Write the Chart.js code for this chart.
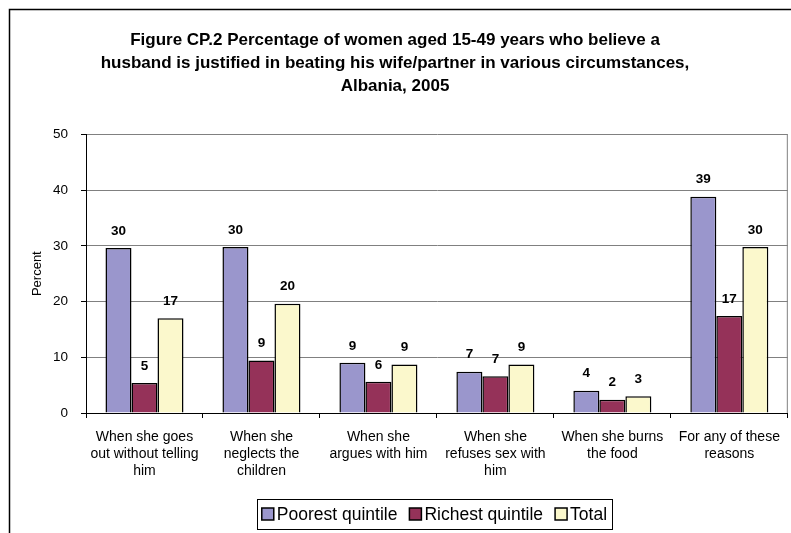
<!DOCTYPE html>
<html>
<head>
<meta charset="utf-8">
<script src="https://cdn.jsdelivr.net/npm/chart.js@4/dist/chart.umd.min.js"></script>
<style>
  html, body { margin: 0; padding: 0; background: #fff; }
  #wrap { width: 791px; height: 533px; }
</style>
</head>
<body>
<div id="wrap"><canvas id="grafico"></canvas></div>
<script>
// === DADOS ===
const categorias = [
    ['When she goes', 'out without telling', 'him'],
    ['When she', 'neglects the', 'children'],
    ['When she', 'argues with him'],
    ['When she', 'refuses sex with', 'him'],
    ['When she burns', 'the food'],
    ['For any of these', 'reasons']
];
const poorest = [29.6, 29.8, 9.0, 7.4, 4.0, 38.8];
const richest = [5.4, 9.4, 5.6, 6.6, 2.4, 17.4];
const total = [17.0, 19.6, 8.7, 8.7, 3.0, 29.8];
const ticksY = [0, 10, 20, 30, 40, 50];

const FONTE = '"Liberation Sans", Arial, sans-serif';

// --- moldura externa + borda direita da area do grafico ---
const moldura = {
    id: 'moldura',
    beforeDraw(chart) {
        const ctx = chart.ctx;
        ctx.save();
        ctx.fillStyle = '#fff';
        ctx.fillRect(0, 0, chart.width, chart.height);
        ctx.strokeStyle = '#000';
        ctx.lineWidth = 1.5;
        ctx.strokeRect(9.5, 9.5, 1000, 1000);
        ctx.restore();
    },
    afterDraw(chart) {
        const a = chart.chartArea;
        const ctx = chart.ctx;
        ctx.save();
        ctx.strokeStyle = '#808080';
        ctx.lineWidth = 1;
        ctx.beginPath();
        ctx.moveTo(a.right - 0.5, a.top);
        ctx.lineTo(a.right - 0.5, a.bottom);
        ctx.stroke();
        ctx.restore();
    }
};

// --- rotulos de valor acima das barras ---
const rotulos = {
    id: 'rotulos',
    afterDatasetsDraw(chart) {
        const ctx = chart.ctx;
        ctx.save();
        ctx.font = 'bold 13.5px ' + FONTE;
        ctx.fillStyle = '#000';
        ctx.textAlign = 'center';
        ctx.textBaseline = 'middle';
        chart.data.datasets.forEach((ds, i) => {
            chart.getDatasetMeta(i).data.forEach((bar, j) => {
                ctx.fillText(String(Math.round(ds.data[j])), bar.x, bar.y - 17);
            });
        });
        ctx.restore();
    }
};

// --- legenda com caixa (estilo Excel) ---
const legendaCaixa = {
    id: 'legendaCaixa',
    afterDraw(chart) {
        const ctx = chart.ctx;
        const a = chart.chartArea;
        ctx.save();
        ctx.font = '17.5px ' + FONTE;
        const itens = chart.data.datasets.map(ds => ({
            texto: ds.label, cor: ds.backgroundColor, largura: ctx.measureText(ds.label).width
        }));
        const caixa = 12, gapTexto = 3, gapItem = 12;
        let larg = 0;
        itens.forEach((it, i) => { larg += caixa + gapTexto + it.largura + (i ? gapItem : 0); });
        const cy = 514;
        let x = (a.left + a.right) / 2 - 2.5 - larg / 2;

        ctx.fillStyle = '#fff';
        ctx.fillRect(x - 5, 499, larg + 10, 30);
        ctx.strokeStyle = '#000';
        ctx.lineWidth = 1;
        ctx.strokeRect(Math.round(x - 5) + 0.5, 499.5, Math.round(larg + 10), 30);

        ctx.textBaseline = 'middle';
        ctx.textAlign = 'left';
        itens.forEach(it => {
            ctx.fillStyle = it.cor;
            ctx.fillRect(x, cy - 6, caixa, caixa);
            ctx.lineWidth = 1.5;
            ctx.strokeStyle = '#000';
            ctx.strokeRect(x, cy - 6, caixa, caixa);
            ctx.fillStyle = '#000';
            ctx.fillText(it.texto, x + caixa + gapTexto, cy + 1);
            x += caixa + gapTexto + it.largura + gapItem;
        });
        ctx.restore();
    }
};

const ctx = document.getElementById('grafico').getContext('2d');
new Chart(ctx, {
    type: 'bar',
    data: {
        labels: categorias,
        datasets: [
            { label: 'Poorest quintile', data: poorest, backgroundColor: '#9a96cc' },
            { label: 'Richest quintile', data: richest, backgroundColor: '#953259' },
            { label: 'Total', data: total, backgroundColor: '#fbf8cc' }
        ]
    },
    options: {
        responsive: true,
        maintainAspectRatio: false,
        animation: false,
        layout: { padding: { left: 0, right: 1, top: 0, bottom: 0 } },
        datasets: {
            bar: {
                borderColor: '#000',
                borderWidth: 1.5,
                categoryPercentage: 0.667,
                barPercentage: 1
            }
        },
        plugins: {
            legend: { display: false },
            tooltip: { enabled: false },
            title: {
                display: true,
                text: [
                    'Figure CP.2 Percentage of women aged 15-49 years who believe a',
                    'husband is justified in beating his wife/partner in various circumstances,',
                    'Albania, 2005'
                ],
                color: '#000',
                font: { family: FONTE, size: 17, weight: 'bold', lineHeight: 1.36 },
                padding: { top: 29, bottom: 36 }
            }
        },
        scales: {
            x: {
                afterFit: (s) => { s.height = 120; },
                grid: { drawOnChartArea: false, tickLength: 5, tickColor: '#000', offset: true },
                border: { color: '#000', width: 1 },
                ticks: {
                    color: '#000',
                    padding: 11,
                    maxRotation: 0,
                    autoSkip: false,
                    font: { family: FONTE, size: 14, lineHeight: 1.21 }
                }
            },
            y: {
                min: 0,
                max: 50,
                afterFit: (s) => { s.width = 86; },
                afterBuildTicks: (s) => { s.ticks = ticksY.map(v => ({ value: v })); },
                grid: { color: '#808080', tickLength: 5, tickColor: '#000' },
                border: { color: '#000', width: 1 },
                ticks: {
                    color: '#000',
                    padding: 13,
                    font: { family: FONTE, size: 13.5 }
                },
                title: {
                    display: true,
                    text: 'Percent',
                    color: '#000',
                    font: { family: FONTE, size: 13 },
                    padding: { top: 30, bottom: 0 }
                }
            }
        }
    },
    plugins: [moldura, rotulos, legendaCaixa]
});
</script>
</body>
</html>
